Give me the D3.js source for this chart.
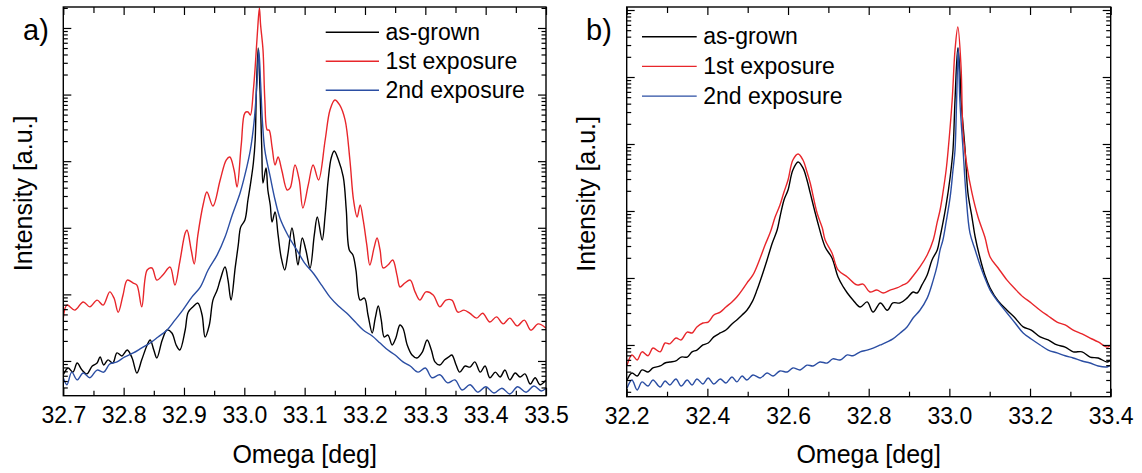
<!DOCTYPE html>
<html>
<head>
<meta charset="utf-8">
<script src="https://cdn.jsdelivr.net/npm/d3@7"></script>
<style>
    body { margin: 0; background: #fff; }
    svg { display: block; font-family: "Liberation Sans", Arial, sans-serif; }
</style>
</head>
<body>
<div id="chart"></div>
<script>
// Series names and colours (legend order)
const seriesNames = ['as-grown', '1st exposure', '2nd exposure'];
const seriesColors = ['#000000', '#e8262b', '#2b4ea3'];

// Tick labels of the omega axes
const xTicksA = [32.7, 32.8, 32.9, 33.0, 33.1, 33.2, 33.3, 33.4, 33.5];
const xTicksB = [32.2, 32.4, 32.6, 32.8, 33.0, 33.2, 33.4];

// Panel a) : [omega (deg), intensity (a.u.)]
const asGrownA = [
    [32.700, 6.2], [32.708, 7.85], [32.716, 6.8], [32.723, 9.3], [32.731, 7.3], [32.739, 6.4], [32.748, 8.4],
    [32.756, 9.3], [32.761, 11.5], [32.767, 8.7], [32.774, 10.4], [32.782, 9.3], [32.789, 13.2], [32.797, 11.9],
    [32.806, 14.6], [32.814, 11.1], [32.822, 6.6], [32.830, 10.4], [32.839, 17.4], [32.844, 20.7], [32.850, 14.6],
    [32.855, 11.1], [32.864, 20.7], [32.872, 29.2], [32.880, 26.3], [32.887, 17.4], [32.893, 14.6], [32.902, 29.2],
    [32.907, 54], [32.915, 65], [32.923, 74], [32.930, 49], [32.935, 22.9], [32.942, 34.7], [32.948, 82],
    [32.955, 116], [32.960, 164], [32.968, 257], [32.973, 164], [32.978, 82], [32.985, 257], [32.990, 552],
    [32.994, 1023], [33.001, 1309], [33.006, 2612], [33.010, 4400], [33.015, 9400], [33.018, 20800],
    [33.020, 117000], [33.023, 501000], [33.026, 117000], [33.029, 14700], [33.031, 4710], [33.036, 7900],
    [33.039, 3690], [33.043, 2198], [33.046, 1222], [33.051, 1726], [33.056, 780], [33.061, 363], [33.067, 232],
    [33.072, 391], [33.079, 993], [33.084, 552], [33.089, 276], [33.096, 703], [33.102, 464], [33.109, 249],
    [33.116, 780], [33.121, 1452], [33.129, 656], [33.134, 1556], [33.139, 5220], [33.144, 11170], [33.149, 14200],
    [33.156, 10400], [33.164, 5790], [33.169, 1849], [33.174, 464], [33.180, 391], [33.185, 232], [33.192, 82],
    [33.199, 88], [33.205, 49], [33.212, 26.3], [33.217, 44], [33.222, 67], [33.227, 41], [33.232, 22.9],
    [33.238, 24.5], [33.245, 17.4], [33.251, 22], [33.258, 34.7], [33.263, 31], [33.270, 17.4], [33.278, 12.3],
    [33.286, 11.1], [33.295, 13.6], [33.303, 20.7], [33.310, 14.6], [33.316, 9.7], [33.324, 8.7], [33.332, 10.4],
    [33.339, 11.5], [33.344, 12.3], [33.351, 8.7], [33.357, 6.8], [33.366, 8.4], [33.374, 8.1], [33.382, 9.7],
    [33.391, 6.8], [33.399, 8.4], [33.407, 5.6], [33.416, 6.8], [33.424, 5.75], [33.432, 7.3], [33.440, 5.2],
    [33.449, 6.6], [33.457, 5.75], [33.465, 6.4], [33.474, 4.5], [33.482, 5.6], [33.490, 4.4], [33.500, 5.2]
];
const firstExpA = [
    [32.700, 44], [32.706, 69], [32.719, 58], [32.733, 77], [32.744, 65], [32.756, 82], [32.766, 69],
    [32.777, 109], [32.784, 88], [32.791, 54], [32.799, 98], [32.806, 164], [32.816, 148], [32.822, 138],
    [32.830, 65], [32.839, 232], [32.847, 249], [32.855, 164], [32.865, 195], [32.877, 257], [32.885, 138],
    [32.893, 306], [32.902, 832], [32.905, 926], [32.912, 464], [32.917, 286], [32.923, 776], [32.932, 2275],
    [32.938, 3445], [32.948, 2123], [32.960, 5220], [32.970, 10400], [32.976, 11560], [32.983, 7380],
    [32.988, 4100], [32.995, 18000], [33.001, 53000], [33.006, 54800], [33.010, 49400], [33.015, 117000],
    [33.018, 259000], [33.022, 933000], [33.025, 2000000], [33.027, 1110000], [33.031, 468000], [33.034, 83000],
    [33.038, 29400], [33.041, 29400], [33.046, 16300], [33.051, 8770], [33.056, 11560], [33.062, 7380],
    [33.071, 3690], [33.076, 3960], [33.084, 8770], [33.091, 5220], [33.097, 1980], [33.106, 4400],
    [33.114, 8770], [33.123, 5220], [33.134, 20800], [33.142, 58700], [33.150, 83000], [33.158, 69800],
    [33.167, 41600], [33.175, 10400], [33.181, 2612], [33.187, 1452], [33.192, 2198], [33.197, 1309],
    [33.203, 552], [33.208, 276], [33.215, 498], [33.220, 703], [33.225, 464], [33.230, 249], [33.238, 276],
    [33.246, 328], [33.253, 195], [33.258, 129], [33.266, 148], [33.275, 164], [33.283, 109], [33.291, 82],
    [33.301, 109], [33.313, 98], [33.324, 65], [33.334, 82], [33.344, 82], [33.354, 54], [33.364, 58],
    [33.374, 52], [33.385, 44], [33.395, 52], [33.407, 38.5], [33.418, 46], [33.429, 36], [33.440, 44],
    [33.452, 33.6], [33.464, 41], [33.475, 29], [33.487, 36], [33.500, 31]
];
const secondExpA = [
    [32.700, 5.6], [32.706, 4.4], [32.714, 6.8], [32.723, 5.2], [32.733, 6.6], [32.744, 5.6], [32.756, 7.3],
    [32.767, 6.8], [32.777, 9.0], [32.789, 9.7], [32.802, 11.5], [32.816, 13.2], [32.830, 15.7], [32.844, 18.6],
    [32.857, 22.9], [32.872, 29.2], [32.885, 41], [32.898, 58], [32.913, 91], [32.927, 129], [32.940, 232],
    [32.955, 391], [32.968, 725], [32.980, 1556], [32.993, 3330], [33.001, 6210], [33.010, 14700],
    [33.016, 37500], [33.021, 149000], [33.024, 468000], [33.027, 150000], [33.030, 40000], [33.034, 14700],
    [33.043, 5790], [33.051, 2612], [33.059, 1403], [33.072, 780], [33.087, 464], [33.100, 295], [33.114, 209],
    [33.129, 134], [33.142, 91], [33.156, 67], [33.170, 52], [33.184, 38.5], [33.197, 29.2], [33.212, 23.7],
    [33.225, 18.6], [33.238, 14.6], [33.250, 12.3], [33.263, 9.7], [33.275, 8.4], [33.288, 6.8], [33.300, 7.85],
    [33.311, 5.6], [33.324, 6.2], [33.337, 4.7], [33.349, 5.2], [33.361, 3.67], [33.374, 4.4], [33.387, 3.4],
    [33.400, 4.1], [33.414, 3.3], [33.427, 3.9], [33.440, 3.2], [33.453, 4.1], [33.467, 3.4], [33.480, 4.2],
    [33.492, 3.55], [33.500, 3.9]
];

// Panel b)
const asGrownB = [
    [32.201, 3.0], [32.213, 3.82], [32.226, 3.44], [32.238, 4.24], [32.253, 3.95], [32.265, 4.54], [32.283, 4.86],
    [32.295, 5.38], [32.307, 5.57], [32.322, 5.77], [32.335, 6.6], [32.350, 6.6], [32.362, 7.9], [32.374, 8.4],
    [32.389, 10], [32.402, 10.7], [32.416, 13.2], [32.432, 15.1], [32.446, 16.7], [32.461, 20.6], [32.473, 23.6],
    [32.486, 28], [32.498, 33], [32.511, 43.9], [32.523, 66], [32.536, 111], [32.548, 186], [32.561, 333],
    [32.573, 520], [32.580, 813], [32.590, 1460], [32.600, 2060], [32.612, 4090], [32.625, 5380], [32.637, 4390],
    [32.647, 2900], [32.655, 1860], [32.672, 735], [32.692, 290], [32.709, 199], [32.724, 103.5], [32.737, 73.5],
    [32.747, 59.7], [32.761, 47], [32.779, 36.9], [32.796, 43.9], [32.811, 31], [32.829, 42.4], [32.846, 33],
    [32.860, 42.4], [32.878, 42.4], [32.895, 50], [32.910, 61.8], [32.920, 59.7], [32.932, 78.7], [32.945, 111],
    [32.957, 186], [32.970, 262], [32.977, 409], [32.984, 662], [32.992, 1230], [33.002, 3220], [33.009, 8130],
    [33.014, 45400], [33.021, 271000], [33.026, 127000], [33.029, 45400], [33.039, 8130], [33.046, 1860],
    [33.056, 813], [33.064, 409], [33.076, 199], [33.088, 111], [33.101, 71], [33.121, 45.4], [33.143, 33],
    [33.163, 25.3], [33.183, 18.6], [33.203, 16.7], [33.225, 13.2], [33.245, 11.9], [33.267, 10], [33.287, 9.3],
    [33.307, 7.9], [33.329, 7.9], [33.349, 6.6], [33.369, 6.4], [33.391, 5.57], [33.400, 5.97]
];
const firstExpB = [
    [32.201, 5.0], [32.213, 7.1], [32.226, 5.97], [32.238, 7.9], [32.253, 6.9], [32.265, 9.0], [32.283, 7.9],
    [32.295, 10.7], [32.307, 10.4], [32.322, 12.7], [32.335, 11.9], [32.350, 15.6], [32.362, 15.1], [32.374, 18.6],
    [32.389, 21.3], [32.402, 22], [32.416, 28], [32.432, 31], [32.446, 36.9], [32.461, 43.9], [32.473, 52],
    [32.486, 66], [32.498, 84], [32.513, 111], [32.531, 199], [32.543, 311], [32.556, 480], [32.568, 813],
    [32.580, 1230], [32.590, 1920], [32.600, 2900], [32.612, 5770], [32.625, 7100], [32.637, 5770], [32.647, 3820],
    [32.655, 2620], [32.672, 933], [32.685, 557], [32.692, 369], [32.709, 236], [32.724, 132], [32.747, 103.5],
    [32.771, 78.7], [32.786, 81], [32.803, 61.8], [32.820, 66], [32.836, 59.7], [32.853, 66], [32.870, 71],
    [32.885, 78.7], [32.895, 84], [32.910, 107], [32.927, 146], [32.945, 220], [32.960, 369], [32.970, 686],
    [32.977, 1035], [32.984, 1860], [32.992, 4090], [32.997, 8130], [33.007, 45400], [33.014, 253000],
    [33.021, 557000], [33.029, 141000], [33.034, 14600], [33.044, 4540], [33.056, 1860], [33.071, 813],
    [33.088, 409], [33.101, 206], [33.121, 141], [33.143, 93], [33.163, 68.5], [33.183, 52], [33.203, 42.4],
    [33.225, 33], [33.245, 27.1], [33.267, 22], [33.287, 19.9], [33.307, 16.7], [33.329, 14.6], [33.349, 12.7],
    [33.369, 11.1], [33.391, 9.3], [33.400, 10]
];
const secondExpB = [
    [32.201, 2.28], [32.213, 3.0], [32.226, 2.13], [32.238, 2.81], [32.253, 2.44], [32.265, 3.0], [32.283, 2.36],
    [32.295, 2.9], [32.307, 2.53], [32.322, 3.11], [32.335, 2.44], [32.350, 3.0], [32.362, 2.53], [32.374, 3.11],
    [32.389, 2.62], [32.402, 3.22], [32.416, 2.62], [32.432, 3.11], [32.446, 2.71], [32.461, 3.33], [32.473, 2.81],
    [32.486, 3.44], [32.498, 3.0], [32.513, 3.56], [32.531, 3.22], [32.548, 3.82], [32.563, 3.44], [32.580, 4.09],
    [32.598, 3.95], [32.612, 4.54], [32.630, 4.24], [32.647, 5.0], [32.662, 4.86], [32.679, 5.57], [32.697, 5.38],
    [32.711, 6.2], [32.729, 5.97], [32.747, 7.1], [32.761, 6.9], [32.779, 7.9], [32.796, 8.4], [32.811, 9.0],
    [32.829, 10], [32.846, 11.1], [32.860, 12.3], [32.878, 15.1], [32.895, 18.6], [32.910, 25.3], [32.927, 33],
    [32.945, 50], [32.960, 93], [32.970, 156], [32.977, 262], [32.984, 369], [32.992, 686], [33.002, 1620],
    [33.009, 4090], [33.014, 8130], [33.018, 45400], [33.022, 271000], [33.026, 45400], [33.034, 8130],
    [33.041, 1860], [33.051, 470], [33.064, 262], [33.076, 156], [33.088, 100], [33.101, 66], [33.121, 43.9],
    [33.143, 30], [33.163, 21.3], [33.183, 15.1], [33.203, 12.3], [33.225, 10], [33.245, 8.4], [33.267, 7.6],
    [33.287, 6.9], [33.307, 6.4], [33.329, 5.77], [33.349, 5.38], [33.369, 4.86], [33.391, 4.7], [33.400, 5.0]
];

const width = 1142;
const height = 473;

const svg = d3
    .select('#chart')
    .append('svg')
    .attr('width', width)
    .attr('height', height);

// Layout of both panels (pixel boxes)
const panels = [
    {
        id: 'a', label: 'a)', box: { left: 63.3, right: 546, top: 7, bottom: 395.7 },
        xDomain: [32.7, 33.5], yDomain: [3.01, 2.065e6], xTicks: xTicksA, minorStep: 0.05,
        series: [asGrownA, firstExpA, secondExpA],
        labelPos: [23, 40], legend: { x: 325.7, y: 32.3, dy: 29, len: 53.3 }, yTitleX: 31.7,
    },
    {
        id: 'b', label: 'b)', box: { left: 626.7, right: 1110.7, top: 7, bottom: 396.7 },
        xDomain: [32.2, 33.4], yDomain: [1.69, 1.109e6], xTicks: xTicksB, minorStep: 0.1,
        series: [asGrownB, firstExpB, secondExpB],
        labelPos: [586, 40], legend: { x: 642, y: 36.7, dy: 29.7, len: 54.7 }, yTitleX: 595,
    },
];

panels.forEach(function (p) {
    const b = p.box;
    const x = d3.scaleLinear().domain(p.xDomain).range([b.left, b.right]);
    const y = d3.scaleLog().domain(p.yDomain).range([b.bottom, b.top]);

    const g = svg.append('g').attr('class', 'panel-' + p.id);

    g.append('clipPath')
        .attr('id', 'clip-' + p.id)
        .append('rect')
        .attr('x', b.left)
        .attr('y', b.top)
        .attr('width', b.right - b.left)
        .attr('height', b.bottom - b.top);

    // curves
    const line = d3.line()
        .x(d => x(d[0]))
        .y(d => y(d[1]))
        .curve(d3.curveCatmullRom.alpha(0.5));

    g.append('g')
        .attr('clip-path', 'url(#clip-' + p.id + ')')
        .selectAll('path')
        .data(p.series)
        .enter()
        .append('path')
        .attr('d', line)
        .attr('fill', 'none')
        .attr('stroke', (d, i) => seriesColors[i])
        .attr('stroke-width', 1.4)
        .attr('stroke-linejoin', 'round');

    // minor x ticks halfway between labelled ones
    const minorX = d3.range(p.xDomain[0] + p.minorStep, p.xDomain[1], p.minorStep * 2);

    // bottom axis, ticks pointing inward
    const bottomAxis = g.append('g')
        .attr('transform', 'translate(0,' + b.bottom + ')')
        .call(d3.axisBottom(x).tickValues(p.xTicks).tickFormat(d3.format('.1f'))
            .tickSizeInner(-8).tickSizeOuter(0).tickPadding(11));
    bottomAxis.select('.domain').remove();
    bottomAxis.selectAll('text').style('font-size', '23px').attr('fill', '#000');

    g.append('g')
        .attr('transform', 'translate(0,' + b.bottom + ')')
        .call(d3.axisBottom(x).tickValues(minorX).tickFormat('').tickSizeInner(-5).tickSizeOuter(0))
        .select('.domain').remove();

    // top mirror ticks
    g.append('g')
        .attr('transform', 'translate(0,' + b.top + ')')
        .call(d3.axisTop(x).tickValues(p.xTicks).tickFormat('').tickSizeInner(-8).tickSizeOuter(0))
        .select('.domain').remove();
    g.append('g')
        .attr('transform', 'translate(0,' + b.top + ')')
        .call(d3.axisTop(x).tickValues(minorX).tickFormat('').tickSizeInner(-6).tickSizeOuter(0))
        .select('.domain').remove();

    // log ticks on left and right, no labels
    const allY = y.ticks().filter(v => v >= p.yDomain[0] && v <= p.yDomain[1]);
    const isMajor = v => Math.abs(Math.log10(v) - Math.round(Math.log10(v))) < 1e-6;
    const majorY = allY.filter(isMajor);
    const minorY = allY.filter(v => !isMajor(v));

    [[b.left, d3.axisRight], [b.right, d3.axisLeft]].forEach(function (side) {
        g.append('g')
            .attr('transform', 'translate(' + side[0] + ',0)')
            .call(side[1](y).tickValues(majorY).tickFormat('').tickSizeInner(8).tickSizeOuter(0))
            .select('.domain').remove();
        g.append('g')
            .attr('transform', 'translate(' + side[0] + ',0)')
            .call(side[1](y).tickValues(minorY).tickFormat('').tickSizeInner(4.5).tickSizeOuter(0))
            .select('.domain').remove();
    });

    g.selectAll('.tick line').attr('stroke', '#000').attr('stroke-width', 1.2);

    // frame
    g.append('rect')
        .attr('x', b.left)
        .attr('y', b.top)
        .attr('width', b.right - b.left)
        .attr('height', b.bottom - b.top)
        .attr('fill', 'none')
        .attr('stroke', '#000')
        .attr('stroke-width', 1.4);

    // axis titles
    g.append('text')
        .attr('x', (b.left + b.right) / 2)
        .attr('y', 463)
        .attr('text-anchor', 'middle')
        .style('font-size', '25px')
        .text('Omega [deg]');

    g.append('text')
        .attr('transform', 'translate(' + p.yTitleX + ',' + ((b.top + b.bottom) / 2 - 8) + ') rotate(-90)')
        .attr('text-anchor', 'middle')
        .style('font-size', '25px')
        .text('Intensity [a.u.]');

    // panel label
    g.append('text')
        .attr('x', p.labelPos[0])
        .attr('y', p.labelPos[1])
        .style('font-size', '29px')
        .text(p.label);

    // legend
    const leg = g.append('g').attr('class', 'legend');
    seriesNames.forEach(function (name, i) {
        const ly = p.legend.y + i * p.legend.dy;
        leg.append('line')
            .attr('x1', p.legend.x)
            .attr('x2', p.legend.x + p.legend.len)
            .attr('y1', ly)
            .attr('y2', ly)
            .attr('stroke', seriesColors[i])
            .attr('stroke-width', 1.4);
        leg.append('text')
            .attr('x', p.legend.x + p.legend.len + 6.5)
            .attr('y', ly + 7.5)
            .style('font-size', '23px')
            .text(name);
    });
});
</script>
</body>
</html>
